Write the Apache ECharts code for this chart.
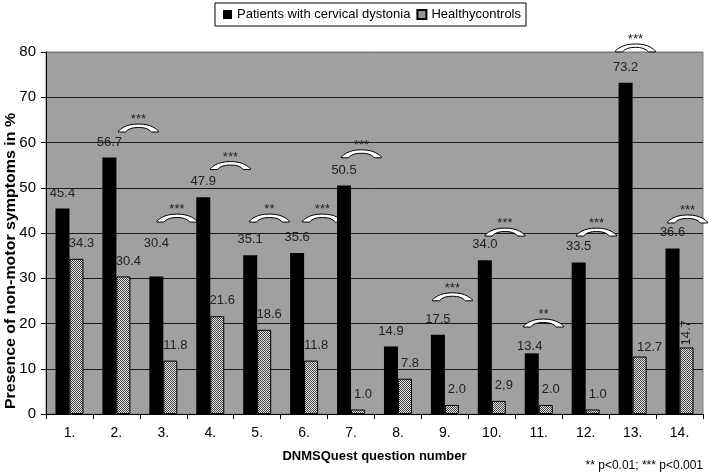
<!DOCTYPE html>
<html>
<head>
<meta charset="utf-8">
<script src="https://cdn.jsdelivr.net/npm/echarts@6/dist/echarts.min.js"></script>
<style>
html,body{margin:0;padding:0;background:#fff;}
#chart{width:709px;height:476px;}
</style>
</head>
<body>
<div id="chart"></div>
<script>
// ---- data ----
const categories = ['1.','2.','3.','4.','5.','6.','7.','8.','9.','10.','11.','12.','13.','14.'];
const patients = [45.4, 56.7, 30.4, 47.9, 35.1, 35.6, 50.5, 14.9, 17.5, 34.0, 13.4, 33.5, 73.2, 36.6];
const controls = [34.3, 30.4, 11.8, 21.6, 18.6, 11.8, 1.0, 7.8, 2.0, 2.9, 2.0, 1.0, 12.7, 14.7];
const controlsText = ['34.3','30.4','11.8','21.6','18.6','11.8','1.0','7.8','2.0','2,9','2.0','1.0','12.7','14.7'];
const seriesNames = ['Patients with cervical dystonia', 'Healthycontrols'];
// significance markers: position along the category axis (0..14), height in %, stars
const sigPos = [1.97, 2.79, 3.93, 4.76, 5.89, 6.72, 8.66, 9.78, 10.60, 11.73, 12.56, 13.67];
const sigY = [63.2, 43.3, 54.9, 43.3, 43.3, 57.5, 25.9, 40.2, 20.1, 40.2, 80.9, 43.1];
const sigStars = ['***','***','***','**','***','***','***','***','**','***','***','***'];
const yTicks = {min: 0, max: 80, interval: 10};
const footnote = '** p<0.01; *** p<0.001';
const yTitle = 'Presence of non-motor symptoms in %';
const xTitle = 'DNMSQuest question number';

// ---- styles ----
const FONT = '"Liberation Sans", Arial, sans-serif';
function makePattern() {
  const c = document.createElement('canvas');
  c.width = 2; c.height = 2;
  const ctx = c.getContext('2d');
  ctx.fillStyle = '#e4e4e4'; ctx.fillRect(0, 0, 2, 2);
  ctx.fillStyle = '#444444'; ctx.fillRect(0, 0, 1, 1); ctx.fillRect(1, 1, 1, 1);
  return c;
}
const hatch = {image: makePattern(), repeat: 'repeat'};

const patientLabelTweaks = {2: {offset: [0, -18]}, 10: {offset: [-2, 9]}};
const controlLabelTweaks = {12: {offset: [10, 6]}, 13: {rotate: 90, align: 'left', verticalAlign: 'middle', distance: 2, offset: [0, 0]}};

const patientData = patients.map((v, i) => patientLabelTweaks[i] ? {value: v, label: patientLabelTweaks[i]} : v);
const controlData = controls.map((v, i) => controlLabelTweaks[i] ? {value: v, label: controlLabelTweaks[i]} : v);

const bracketPath = 'M0,7 C2,6 6,1 20,1 C34,1 38,6 40,7 L40,8 L33,8 C30,5 26,4 20,4 C14,4 10,5 7,8 L0,8 Z';

const chart = echarts.init(document.getElementById('chart'), null, {renderer: 'canvas'});
chart.setOption({
  animation: false,
  backgroundColor: '#ffffff',
  textStyle: {fontFamily: FONT},
  legend: {
    data: seriesNames,
    left: 215, top: 3,
    itemWidth: 9, itemHeight: 9, itemGap: 6,
    padding: [5, 5, 5, 8],
    borderColor: '#000', borderWidth: 1,
    icon: 'rect',
    textStyle: {fontSize: 13, color: '#000', fontFamily: FONT}
  },
  grid: {
    left: 46, right: 6, top: 52, bottom: 62,
    show: true, backgroundColor: '#a0a0a0', borderColor: '#7c7c7c', borderWidth: 1
  },
  xAxis: {
    type: 'category',
    data: categories,
    axisLine: {show: true, lineStyle: {color: '#000', width: 1}},
    axisTick: {show: true, length: 5, lineStyle: {color: '#000'}},
    axisLabel: {fontSize: 14, color: '#000', margin: 12, fontFamily: FONT},
    name: xTitle,
    nameLocation: 'middle',
    nameGap: 36,
    nameTextStyle: {fontSize: 13, fontWeight: 'bold', color: '#000', fontFamily: FONT}
  },
  yAxis: {
    type: 'value',
    min: yTicks.min, max: yTicks.max, interval: yTicks.interval,
    axisLine: {show: true, lineStyle: {color: '#000', width: 1}},
    axisTick: {show: true, length: 5, lineStyle: {color: '#000'}},
    axisLabel: {fontSize: 15, color: '#000', margin: 10, fontFamily: FONT},
    splitLine: {show: true, lineStyle: {color: ['#1a1a1a','#1a1a1a','#1a1a1a','#1a1a1a','#1a1a1a','#1a1a1a','#1a1a1a','#1a1a1a','#7c7c7c'], width: 1}}
  },
  graphic: [
    {type: 'text', x: 11, y: 261, rotation: Math.PI / 2, scaleX: 1.14,
     style: {text: yTitle, font: 'bold 14px "Liberation Sans"', fill: '#000', align: 'center', verticalAlign: 'middle'}},
    {type: 'text', x: 703, y: 466,
     style: {text: footnote, font: '12px "Liberation Sans"', fill: '#000', align: 'right', verticalAlign: 'middle'}}
  ],
  series: [
    {
      name: seriesNames[0], type: 'bar', data: patientData,
      barWidth: 14, barGap: '0%',
      itemStyle: {color: '#000'},
      label: {show: true, position: 'top', distance: 9, fontSize: 13, color: '#222', fontFamily: FONT,
              formatter: p => patients[p.dataIndex].toFixed(1)}
    },
    {
      name: seriesNames[1], type: 'bar', data: controlData,
      barWidth: 14, barGap: '0%',
      itemStyle: {color: hatch, borderColor: '#000', borderWidth: 1},
      label: {show: true, position: 'top', distance: 9, offset: [5, 0], fontSize: 13, color: '#222', fontFamily: FONT,
              formatter: p => controlsText[p.dataIndex]}
    },
    {
      type: 'custom',
      clip: false,
      silent: true,
      data: sigPos.map((p, i) => [Math.min(13, Math.floor(p)), sigY[i]]),
      encode: {x: 0, y: 1},
      renderItem: function (params, api) {
        const i = params.dataIndex;
        const idx = api.value(0);
        const c = api.coord([idx, api.value(1)]);
        const band = api.size([1, 0])[0];
        const cx = c[0] + (sigPos[i] - idx - 0.5) * band;
        const cy = c[1];
        const w = 40, h = 8;
        return {
          type: 'group',
          children: [
            {type: 'path', shape: {pathData: bracketPath, x: cx - w / 2, y: cy - h / 2, width: w, height: h, layout: 'cover'},
             style: {fill: '#fff', stroke: '#000', lineWidth: 1}},
            {type: 'text', x: cx, y: cy - h / 2 - 11,
             style: {text: sigStars[i], font: '13px "Liberation Sans"', fill: '#222', align: 'center', verticalAlign: 'top'}}
          ]
        };
      }
    }
  ]
});
</script>
</body>
</html>
